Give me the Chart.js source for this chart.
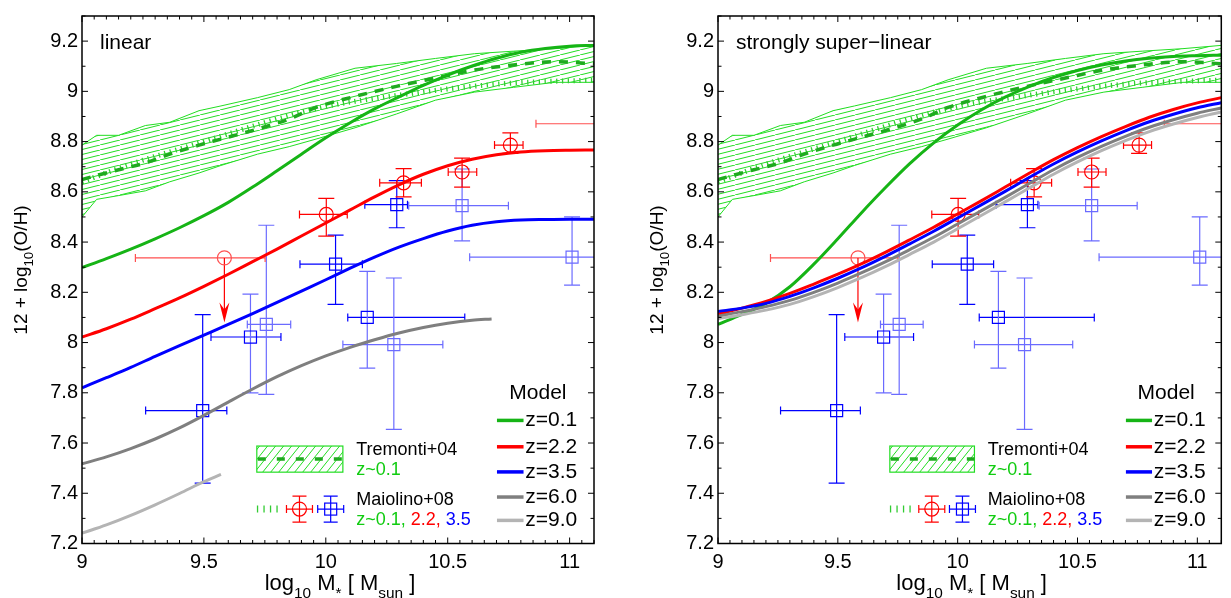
<!DOCTYPE html>
<html>
<head>
<meta charset="utf-8">
<script src="https://cdn.jsdelivr.net/npm/chart.js@4.4.1/dist/chart.umd.min.js"></script>
<style>
  html, body { margin: 0; padding: 0; background: #fff; }
  #wrap { position: relative; width: 1231px; height: 598px; overflow: hidden; }
  canvas { position: absolute; top: 0; }
</style>
</head>
<body>
<div id="wrap">
  <canvas id="left" width="615" height="598" style="left:0"></canvas>
  <canvas id="right" width="616" height="598" style="left:615px"></canvas>
</div>
<script>
// ---- axes ----
const xTickValues = [9, 9.5, 10, 10.5, 11];
const xTickLabels = ['9', '9.5', '10', '10.5', '11'];
const yTickValues = [7.2, 7.4, 7.6, 7.8, 8.0, 8.2, 8.4, 8.6, 8.8, 9.0, 9.2];
const yTickLabels = ['7.2', '7.4', '7.6', '7.8', '8', '8.2', '8.4', '8.6', '8.8', '9', '9.2'];

// ---- Tremonti+04 band, z~0.1 ----
const tremMass   = [9.0, 9.06, 9.15, 9.26, 9.36, 9.48, 9.57, 9.72, 9.85, 9.96, 10.12, 10.29, 10.45, 10.61, 10.77, 10.94, 11.1];
const tremUpper  = [8.786, 8.825, 8.825, 8.864, 8.877, 8.923, 8.942, 8.975, 9.007, 9.046, 9.092, 9.111, 9.131, 9.15, 9.16, 9.17, 9.183];
const tremLower  = [8.50, 8.57, 8.585, 8.604, 8.64, 8.675, 8.705, 8.75, 8.78, 8.81, 8.855, 8.91, 8.965, 8.997, 9.016, 9.036, 9.036];
const tremMedian = [8.649, 8.665, 8.688, 8.715, 8.75, 8.786, 8.81, 8.85, 8.89, 8.936, 8.98, 9.02, 9.053, 9.085, 9.105, 9.118, 9.11];

// ---- Maiolino+08 z~0.1 relation ----
const maioMass = [9.0, 9.2, 9.5, 9.8, 10.0, 10.3, 10.6, 10.8, 11.1];
const maioZ01  = [8.64, 8.71, 8.80, 8.89, 8.94, 8.985, 9.02, 9.035, 9.045];

// ---- Maiolino+08 z=2.2 (circles) ----
const redX   = [9.584, 10.002, 10.319, 10.559, 10.757, 11.25];
const redY   = [8.337, 8.51, 8.636, 8.679, 8.786, 8.871];
const redXlo = [9.219, 9.892, 10.221, 10.502, 10.692, 10.862];
const redXhi = [9.751, 10.088, 10.392, 10.619, 10.809, 11.6];
const redYlo = [8.08, 8.424, 8.58, 8.619, 8.753, 8.82];
const redYhi = [8.337, 8.574, 8.692, 8.734, 8.835, 8.92];
const redUpperLimit = [true, false, false, false, false, false];

// ---- Maiolino+08 z=3.5 (squares) ----
const blueX   = [9.495, 9.691, 9.756, 10.04, 10.17, 10.279, 10.291, 10.559, 11.01];
const blueY   = [7.729, 8.022, 8.072, 8.312, 8.10, 7.992, 8.549, 8.545, 8.34];
const blueXlo = [9.261, 9.529, 9.678, 9.894, 10.09, 10.07, 10.16, 10.34, 10.59];
const blueXhi = [9.594, 9.816, 9.856, 10.15, 10.57, 10.48, 10.335, 10.749, 11.4];
const blueYlo = [7.44, 7.80, 7.794, 8.152, 7.898, 7.654, 8.457, 8.405, 8.229];
const blueYhi = [8.111, 8.193, 8.467, 8.428, 8.283, 8.257, 8.645, 8.691, 8.50];

// ---- model curves: stellar mass grid ----
const massGrid = [9.0, 9.1, 9.2, 9.3, 9.4, 9.5, 9.6, 9.7, 9.8, 9.9, 10.0,
                  10.1, 10.2, 10.3, 10.4, 10.5, 10.6, 10.7, 10.8, 10.9, 11.0, 11.1];

// "linear" panel
const linZ01 = [8.298, 8.334, 8.372, 8.413, 8.457, 8.505, 8.558, 8.619, 8.684, 8.750, 8.815,
                8.875, 8.930, 8.978, 9.024, 9.065, 9.101, 9.132, 9.156, 9.171, 9.180, 9.183];
const linZ22 = [8.022, 8.055, 8.093, 8.135, 8.178, 8.224, 8.272, 8.322, 8.372, 8.424, 8.476,
                8.528, 8.580, 8.628, 8.670, 8.704, 8.730, 8.748, 8.759, 8.764, 8.766, 8.767];
const linZ35 = [7.820, 7.860, 7.901, 7.945, 7.988, 8.030, 8.072, 8.115, 8.160, 8.205, 8.250,
                8.296, 8.340, 8.380, 8.414, 8.444, 8.467, 8.481, 8.488, 8.490, 8.491, 8.491];
const linMass60 = [9.0, 9.1, 9.2, 9.3, 9.4, 9.5, 9.6, 9.7, 9.8, 9.9, 10.0, 10.1, 10.2, 10.3, 10.4, 10.5, 10.6, 10.68];
const linZ60    = [7.517, 7.545, 7.578, 7.616, 7.660, 7.710, 7.763, 7.815, 7.864, 7.908, 7.947,
                   7.981, 8.011, 8.038, 8.060, 8.077, 8.089, 8.094];
const linMass90 = [9.0, 9.1, 9.2, 9.3, 9.4, 9.5, 9.57];
const linZ90    = [7.241, 7.274, 7.312, 7.354, 7.399, 7.446, 7.475];

// "strongly super-linear" panel
const supZ01 = [8.072, 8.112, 8.156, 8.222, 8.312, 8.413, 8.518, 8.618, 8.712, 8.795, 8.866,
                8.927, 8.978, 9.020, 9.055, 9.083, 9.105, 9.121, 9.132, 9.139, 9.142, 9.144];
const supZ22 = [8.113, 8.137, 8.164, 8.196, 8.233, 8.272, 8.314, 8.360, 8.409, 8.459, 8.512,
                8.565, 8.620, 8.675, 8.728, 8.776, 8.820, 8.860, 8.897, 8.928, 8.954, 8.975];
const supZ35 = [8.124, 8.137, 8.156, 8.184, 8.218, 8.256, 8.298, 8.344, 8.393, 8.443, 8.496,
                8.549, 8.603, 8.658, 8.711, 8.759, 8.803, 8.843, 8.879, 8.909, 8.935, 8.955];
const supZ60 = [8.105, 8.123, 8.143, 8.168, 8.200, 8.237, 8.278, 8.322, 8.370, 8.419, 8.472,
                8.525, 8.579, 8.634, 8.688, 8.737, 8.781, 8.821, 8.857, 8.887, 8.913, 8.934];
const supZ90 = [8.095, 8.111, 8.129, 8.152, 8.183, 8.219, 8.259, 8.303, 8.351, 8.400, 8.453,
                8.507, 8.561, 8.616, 8.670, 8.719, 8.764, 8.804, 8.840, 8.870, 8.896, 8.918];

const modelLabels = ['z=0.1', 'z=2.2', 'z=3.5', 'z=6.0', 'z=9.0'];

// ---- styles ----
const FONT = "'Liberation Sans', Arial, Helvetica, sans-serif";
const fnt = (s) => `${s}px ${FONT}`;
const modelColors = ['#16b416', '#ff0000', '#0000ff', '#7f7f7f', '#b4b4b4'];
const GREEN_HATCH = '#22dd22';
const GREEN_DASH = '#1faa1f';
const GREEN_DOT = '#33cc33';
const GREEN_TXT = '#11cc11';
const BLUE = '#0000ff', BLUE_L = '#6b6bff';
const RED = '#ff0000', RED_L = '#ff5050';
const blueHCol = [BLUE, BLUE, BLUE_L, BLUE, BLUE, BLUE_L, BLUE, BLUE_L, BLUE_L];
const blueVCol = [BLUE, BLUE_L, BLUE_L, BLUE, BLUE_L, BLUE_L, BLUE, BLUE_L, BLUE_L];
const redCol   = [RED_L, RED, RED, RED, RED, RED_L];

function hatchPattern() {
  const c = document.createElement('canvas');
  c.width = 20; c.height = 5;
  const g = c.getContext('2d');
  g.strokeStyle = GREEN_HATCH;
  g.lineWidth = 1;
  g.beginPath(); g.moveTo(-2, 5.5); g.lineTo(22, -0.5); g.stroke();
  return g.createPattern(c, 'repeat');
}

const pts = (xs, ys) => xs.map((x, i) => ({ x, y: ys[i] }));

function lineDs(xs, ys, color, width, order, extra) {
  return Object.assign({
    data: pts(xs, ys), borderColor: color, borderWidth: width,
    pointRadius: 0, fill: false, cubicInterpolationMode: 'monotone', order
  }, extra || {});
}

function errBar(chart, x, y, xlo, xhi, ylo, yhi, hCol, vCol, hCap, vCap, limit) {
  const ctx = chart.ctx, sx = chart.scales.x, sy = chart.scales.y;
  const px = sx.getPixelForValue(x), py = sy.getPixelForValue(y);
  const x0 = sx.getPixelForValue(xlo), x1 = sx.getPixelForValue(xhi);
  ctx.strokeStyle = hCol;
  ctx.beginPath();
  ctx.moveTo(x0, py); ctx.lineTo(x1, py);
  ctx.moveTo(x0, py - hCap); ctx.lineTo(x0, py + hCap);
  ctx.moveTo(x1, py - hCap); ctx.lineTo(x1, py + hCap);
  ctx.stroke();
  const y0 = sy.getPixelForValue(ylo), y1 = sy.getPixelForValue(yhi);
  ctx.strokeStyle = vCol;
  if (limit) {
    // upper limit: line down to an arrow head
    ctx.strokeStyle = RED;
    ctx.beginPath(); ctx.moveTo(px, py); ctx.lineTo(px, y0 - 10); ctx.stroke();
    ctx.fillStyle = RED;
    ctx.beginPath();
    ctx.moveTo(px, y0); ctx.lineTo(px - 5, y0 - 20); ctx.lineTo(px, y0 - 13); ctx.lineTo(px + 5, y0 - 20);
    ctx.closePath(); ctx.fill();
    return;
  }
  ctx.beginPath();
  ctx.moveTo(px, y0); ctx.lineTo(px, y1);
  ctx.moveTo(px - vCap, y0); ctx.lineTo(px + vCap, y0);
  ctx.moveTo(px - vCap, y1); ctx.lineTo(px + vCap, y1);
  ctx.stroke();
}

function richText(ctx, parts, x, y, size, align) {
  let total = 0;
  parts.forEach(p => { ctx.font = fnt(p[1] ? size * 0.7 : size); total += ctx.measureText(p[0]).width; });
  let cx = align === 'center' ? x - total / 2 : x;
  parts.forEach(p => {
    ctx.font = fnt(p[1] ? size * 0.7 : size);
    ctx.fillText(p[0], cx, p[1] ? y + size * 0.36 : y);
    cx += ctx.measureText(p[0]).width;
  });
}

function decor(title) {
  return {
    id: 'decor',
    beforeDatasetsDraw(chart) {
      const ctx = chart.ctx, a = chart.chartArea;
      ctx.save();
      ctx.beginPath(); ctx.rect(a.left, a.top, a.right - a.left, a.bottom - a.top); ctx.clip();
      ctx.lineWidth = 1.2;
      blueX.forEach((x, i) => errBar(chart, x, blueY[i], blueXlo[i], blueXhi[i], blueYlo[i], blueYhi[i],
        blueHCol[i], blueVCol[i], 4, 8, false));
      redX.forEach((x, i) => errBar(chart, x, redY[i], redXlo[i], redXhi[i], redYlo[i], redYhi[i],
        redCol[i], redCol[i], 4, 8, redUpperLimit[i]));
      ctx.restore();
    },
    afterDatasetsDraw(chart) {
      const ctx = chart.ctx, a = chart.chartArea, sx = chart.scales.x, sy = chart.scales.y;
      const X = (v) => sx.getPixelForValue(v), Y = (v) => sy.getPixelForValue(v);
      ctx.save();
      // frame
      ctx.strokeStyle = '#000'; ctx.lineWidth = 1.5;
      ctx.strokeRect(a.left, a.top, a.right - a.left, a.bottom - a.top);
      // inward ticks
      ctx.lineWidth = 1;
      ctx.beginPath();
      for (let i = 180; i <= 222; i++) {
        const p = X(i / 20), len = i % 10 === 0 ? 6 : 3.5;
        ctx.moveTo(p, a.bottom); ctx.lineTo(p, a.bottom - len);
        ctx.moveTo(p, a.top); ctx.lineTo(p, a.top + len);
      }
      for (let i = 72; i <= 93; i++) {
        const p = Y(i / 10), len = i % 2 === 0 ? 6 : 3.5;
        ctx.moveTo(a.left, p); ctx.lineTo(a.left + len, p);
        ctx.moveTo(a.right, p); ctx.lineTo(a.right - len, p);
      }
      ctx.stroke();

      ctx.fillStyle = '#000';
      ctx.textBaseline = 'middle'; ctx.textAlign = 'left';
      ctx.font = fnt(21);
      ctx.fillText(title, a.left + 18, a.top + 27);

      // model legend
      ctx.textAlign = 'center';
      ctx.fillText('Model', X(10.87), Y(7.80));
      ctx.textAlign = 'left';
      const rows = [7.69, 7.585, 7.485, 7.385, 7.292];
      modelLabels.forEach((lab, i) => {
        ctx.strokeStyle = modelColors[i]; ctx.lineWidth = 3.5;
        ctx.beginPath(); ctx.moveTo(X(10.702), Y(rows[i])); ctx.lineTo(X(10.811), Y(rows[i])); ctx.stroke();
        ctx.fillStyle = '#000';
        ctx.fillText(lab, X(10.818), Y(rows[i]));
      });

      // Tremonti legend box
      const bx0 = X(9.717), bx1 = X(10.07), by0 = Y(7.588), by1 = Y(7.484);
      ctx.save();
      ctx.beginPath(); ctx.rect(bx0, by0, bx1 - bx0, by1 - by0); ctx.clip();
      ctx.strokeStyle = GREEN_HATCH; ctx.lineWidth = 1;
      ctx.beginPath();
      const h = by1 - by0;
      for (let xx = bx0 - h; xx < bx1 + h; xx += 8) { ctx.moveTo(xx, by1); ctx.lineTo(xx + h * 0.8, by0); }
      ctx.stroke();
      ctx.restore();
      ctx.strokeStyle = GREEN_HATCH; ctx.lineWidth = 1.2;
      ctx.strokeRect(bx0, by0, bx1 - bx0, by1 - by0);
      ctx.strokeStyle = GREEN_DASH; ctx.lineWidth = 3.5; ctx.setLineDash([8, 11]);
      ctx.beginPath(); ctx.moveTo(bx0 + 1, (by0 + by1) / 2); ctx.lineTo(bx1, (by0 + by1) / 2); ctx.stroke();
      ctx.setLineDash([]);
      ctx.font = fnt(18); ctx.fillStyle = '#000';
      ctx.fillText('Tremonti+04', X(10.125), Y(7.572));
      ctx.fillStyle = GREEN_TXT;
      ctx.fillText('z~0.1', X(10.125), Y(7.493));

      // Maiolino legend
      const my = Y(7.337);
      ctx.strokeStyle = GREEN_DOT; ctx.lineWidth = 1.3;
      ctx.beginPath();
      for (let k = 0; k < 4; k++) { const xx = X(9.72) + k * 6.5; ctx.moveTo(xx, my - 3.5); ctx.lineTo(xx, my + 3.5); }
      ctx.stroke();
      ctx.lineWidth = 1.2;
      const rx = X(9.892), qx = X(10.02);
      ctx.strokeStyle = RED;
      ctx.beginPath();
      ctx.moveTo(rx - 13, my); ctx.lineTo(rx + 13, my);
      ctx.moveTo(rx - 13, my - 4); ctx.lineTo(rx - 13, my + 4);
      ctx.moveTo(rx + 13, my - 4); ctx.lineTo(rx + 13, my + 4);
      ctx.moveTo(rx, my - 13); ctx.lineTo(rx, my + 13);
      ctx.moveTo(rx - 7, my - 13); ctx.lineTo(rx + 7, my - 13);
      ctx.moveTo(rx - 7, my + 13); ctx.lineTo(rx + 7, my + 13);
      ctx.stroke();
      ctx.beginPath(); ctx.arc(rx, my, 7, 0, Math.PI * 2); ctx.stroke();
      ctx.strokeStyle = BLUE;
      ctx.beginPath();
      ctx.moveTo(qx - 13, my); ctx.lineTo(qx + 13, my);
      ctx.moveTo(qx - 13, my - 4); ctx.lineTo(qx - 13, my + 4);
      ctx.moveTo(qx + 13, my - 4); ctx.lineTo(qx + 13, my + 4);
      ctx.moveTo(qx, my - 13); ctx.lineTo(qx, my + 13);
      ctx.moveTo(qx - 7, my - 13); ctx.lineTo(qx + 7, my - 13);
      ctx.moveTo(qx - 7, my + 13); ctx.lineTo(qx + 7, my + 13);
      ctx.stroke();
      ctx.strokeRect(qx - 6, my - 6, 12, 12);
      ctx.fillStyle = '#000';
      ctx.fillText('Maiolino+08', X(10.125), Y(7.372));
      let tx = X(10.125);
      [['z~0.1, ', GREEN_TXT], ['2.2, ', RED], ['3.5', BLUE]].forEach(([t, c]) => {
        ctx.fillStyle = c; ctx.fillText(t, tx, Y(7.294)); tx += ctx.measureText(t).width;
      });

      // axis titles
      ctx.fillStyle = '#000'; ctx.textBaseline = 'alphabetic';
      richText(ctx, [['log', 0], ['10', 1], [' M', 0], ['*', 1], [' [ M', 0], ['sun', 1], [' ]', 0]],
        (a.left + a.right) / 2 + 2, 590, 22, 'center');
      ctx.translate(a.left - 55.5, 270);
      ctx.rotate(-Math.PI / 2);
      richText(ctx, [['12 + log', 0], ['10', 1], ['(O/H)', 0]], 0, 0, 19, 'center');
      ctx.restore();
    }
  };
}

function buildChart(id, title, yWidth, padRight, models) {
  const datasets = [
    lineDs(tremMass, tremUpper, GREEN_HATCH, 1, 15, { fill: '+1', backgroundColor: hatchPattern(), cubicInterpolationMode: 'default', tension: 0 }),
    lineDs(tremMass, tremLower, GREEN_HATCH, 1, 16, { cubicInterpolationMode: 'default', tension: 0 }),
    lineDs(maioMass, maioZ01, GREEN_DOT, 5, 13, { borderDash: [1.3, 4.5], borderCapStyle: 'butt' }),
    lineDs(tremMass, tremMedian, GREEN_DASH, 3.5, 12, { borderDash: [9, 8] }),
    {
      data: pts(redX, redY), showLine: false, order: 20, clip: 0,
      pointStyle: 'circle', pointRadius: 7, pointBorderWidth: 1.2,
      pointBorderColor: redCol, pointBackgroundColor: 'rgba(0,0,0,0)'
    },
    {
      data: pts(blueX, blueY), showLine: false, order: 21, clip: 0,
      pointStyle: 'rect', pointRadius: 8.5, pointBorderWidth: 1.2,
      pointBorderColor: blueHCol, pointBackgroundColor: 'rgba(0,0,0,0)'
    }
  ];
  models.forEach((m, i) => datasets.push(lineDs(m[0], m[1], modelColors[i], 3, 4 - i)));

  return new Chart(document.getElementById(id), {
    type: 'line',
    data: { datasets },
    options: {
      responsive: false,
      animation: false,
      events: [],
      layout: { padding: { left: 0, right: padRight, top: 6.5, bottom: 0 } },
      plugins: { legend: { display: false }, tooltip: { enabled: false } },
      scales: {
        x: {
          type: 'linear', min: 9, max: 11.1,
          afterFit: (s) => { s.height = 54.5; },
          afterBuildTicks: (s) => { s.ticks = xTickValues.map(v => ({ value: v })); },
          grid: { display: false, drawTicks: false },
          border: { display: false },
          ticks: {
            autoSkip: false, maxRotation: 0, color: '#000', padding: 7,
            font: { family: FONT, size: 20 },
            callback: (v, i) => xTickLabels[i]
          }
        },
        y: {
          type: 'linear', min: 7.2, max: 9.3,
          afterFit: (s) => { s.width = yWidth; },
          afterBuildTicks: (s) => { s.ticks = yTickValues.map(v => ({ value: v })); },
          grid: { display: false, drawTicks: false },
          border: { display: false },
          ticks: {
            autoSkip: false, color: '#000', padding: 4,
            font: { family: FONT, size: 20 },
            callback: (v, i) => yTickLabels[i]
          }
        }
      }
    },
    plugins: [decor(title)]
  });
}

buildChart('left', 'linear', 82, 21, [
  [massGrid, linZ01], [massGrid, linZ22], [massGrid, linZ35], [linMass60, linZ60], [linMass90, linZ90]
]);
buildChart('right', 'strongly super\u2212linear', 103, 1, [
  [massGrid, supZ01], [massGrid, supZ22], [massGrid, supZ35], [massGrid, supZ60], [massGrid, supZ90]
]);
</script>
</body>
</html>
